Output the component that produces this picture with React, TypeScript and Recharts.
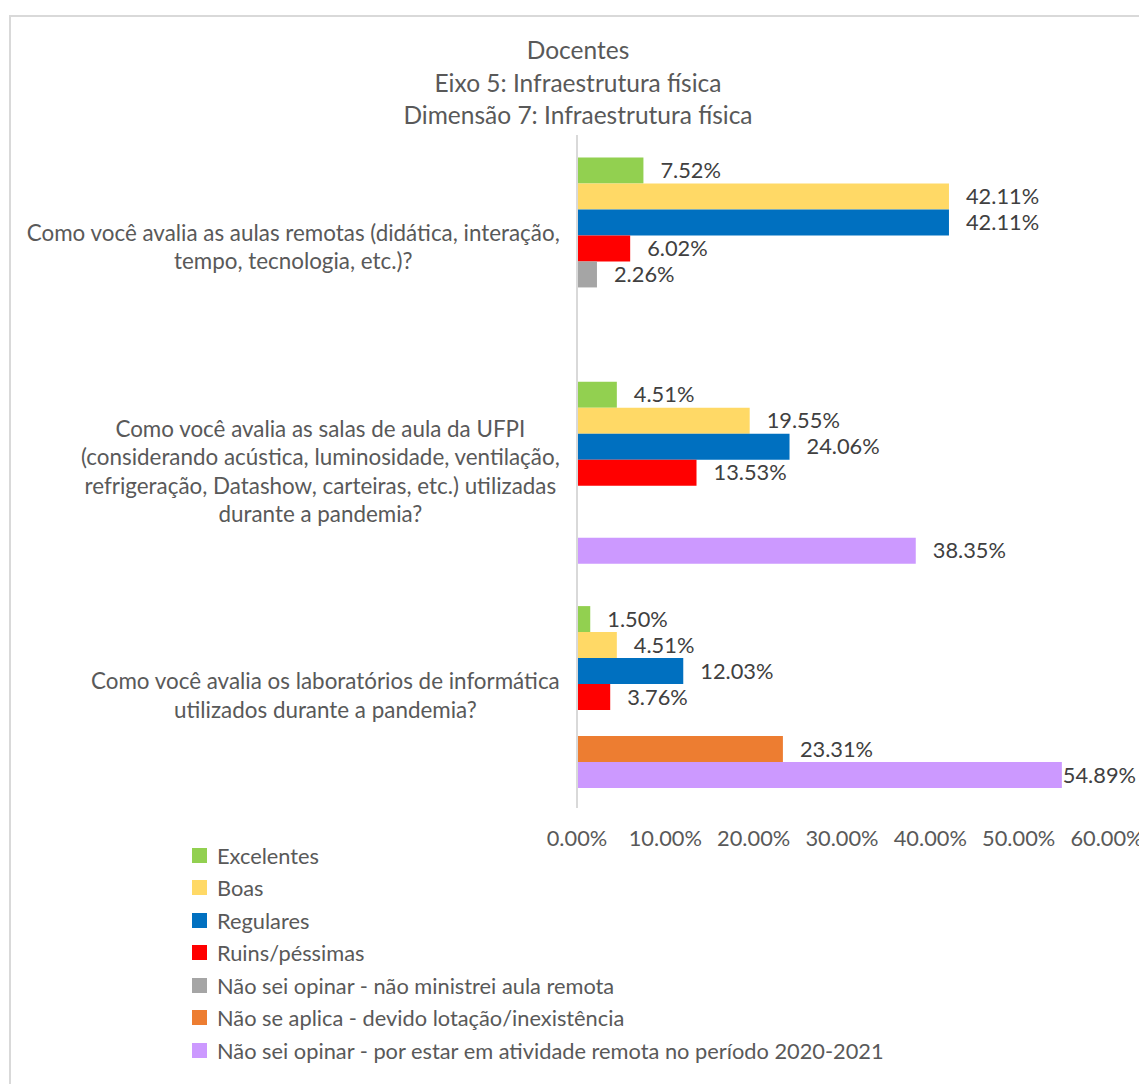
import React from 'react'
import { BarChart, Bar, XAxis, YAxis, LabelList } from 'recharts'

const categories = [
  'Como você avalia as aulas remotas (didática, interação,\ntempo, tecnologia, etc.)?',
  'Como você avalia as salas de aula da UFPI\n(considerando acústica, luminosidade, ventilação,\nrefrigeração, Datashow, carteiras, etc.) utilizadas\ndurante a pandemia?',
  'Como você avalia os laboratórios de informática\nutilizados durante a pandemia?',
]

const excelentes = [7.52, 4.51, 1.5]
const boas = [42.11, 19.55, 4.51]
const regulares = [42.11, 24.06, 12.03]
const ruins = [6.02, 13.53, 3.76]
const naoMinistrei = [2.26, null, null]
const naoSeAplica = [null, null, 23.31]
const naoSeiRemota = [null, 38.35, 54.89]

const xTicks = [0, 10, 20, 30, 40, 50, 60]

const titleLines = ['Docentes', 'Eixo 5: Infraestrutura física', 'Dimensão 7: Infraestrutura física']

const SERIES = [
  { key: 'excelentes', name: 'Excelentes', color: '#92D050', values: excelentes },
  { key: 'boas', name: 'Boas', color: '#FFD966', values: boas },
  { key: 'regulares', name: 'Regulares', color: '#0070C0', values: regulares },
  { key: 'ruins', name: 'Ruins/péssimas', color: '#FF0000', values: ruins },
  { key: 'naoMinistrei', name: 'Não sei opinar - não ministrei aula remota', color: '#A5A5A5', values: naoMinistrei },
  { key: 'naoSeAplica', name: 'Não se aplica - devido lotação/inexistência', color: '#ED7D31', values: naoSeAplica },
  { key: 'naoSeiRemota', name: 'Não sei opinar - por estar em atividade remota no período 2020-2021', color: '#CC99FF', values: naoSeiRemota },
]

const data = categories.map((c, i) => {
  const row: Record<string, any> = { categoria: c }
  SERIES.forEach(s => { row[s.key] = s.values[i] })
  return row
})

const FONT = 'Lato, "Noto Sans", sans-serif'
const FS = 21.8
const CAT_FS = 22.4
const W = 1139
const H = 1084

let canvas: HTMLCanvasElement | null = null
function textWidth(t: string, size = FS) {
  if (!canvas) canvas = document.createElement('canvas')
  const ctx = canvas.getContext('2d')!
  ctx.font = `${size}px Lato`
  return ctx.measureText(t).width
}

const CategoryTick = (props: any) => {
  const { x, y, payload } = props
  const lines = String(payload.value).split('\n')
  const maxW = Math.max(...lines.map(l => textWidth(l, CAT_FS)))
  const right = x - 17
  const cx = right - maxW / 2
  const lh = 28.5
  const y0 = y - ((lines.length - 1) * lh) / 2
  return (
    <text x={cx} y={y0} textAnchor="middle" fill="#595959" fontSize={CAT_FS} fontFamily={FONT}>
      {lines.map((l, i) => (
        <tspan key={i} x={cx} y={y0 + i * lh} dy="0.35em">{l}</tspan>
      ))}
    </text>
  )
}

const PercentTick = (props: any) => {
  const { x, y, payload } = props
  return (
    <text x={x} y={y + 38} textAnchor="middle" fill="#595959" fontSize={FS} fontFamily={FONT}>
      {Number(payload.value).toFixed(2)}%
    </text>
  )
}

const ValueLabel = (props: any) => {
  const { x, y, width, height, value } = props
  if (value === null || value === undefined) return null
  const txt = `${Number(value).toFixed(2)}%`
  let lx = x + width + 17
  let anchor: 'start' | 'end' = 'start'
  if (lx + textWidth(txt) > W - 3) {
    lx = W - 3
    anchor = 'end'
  }
  return (
    <text x={lx} y={y + height / 2} dy="0.35em" textAnchor={anchor} fill="#404040" fontSize={FS} fontFamily={FONT}>
      {txt}
    </text>
  )
}

export default function App() {
  return (
    <div style={{ position: 'absolute', left: 0, top: 0, width: W, height: H, overflow: 'hidden', background: '#fff' }}>
      <div style={{ position: 'absolute', left: 9, top: 15, width: 1300, height: 1300, border: '2px solid #d9d9d9' }} />
      <div style={{ position: 'absolute', left: 0, top: 34, width: 1156, textAlign: 'center', color: '#595959', fontFamily: FONT, fontSize: 24.5, lineHeight: '32.5px' }}>
        {titleLines.map(t => <div key={t}>{t}</div>)}
      </div>
      <div style={{ position: 'absolute', left: 0, top: 0 }}>
        <BarChart
          width={W}
          height={H}
          data={data}
          layout="vertical"
          margin={{ top: 135, right: 32, bottom: 246, left: 0 }}
          barCategoryGap="10%"
          barGap={0}
        >
          <XAxis
            type="number"
            domain={[0, 60]}
            ticks={xTicks}
            height={30}
            axisLine={false}
            tickLine={false}
            tickSize={0}
            tickMargin={0}
            tick={<PercentTick />}
            interval={0}
          />
          <YAxis
            type="category"
            dataKey="categoria"
            width={577}
            axisLine={{ stroke: '#d9d9d9', strokeWidth: 2 }}
            tickLine={false}
            tickSize={0}
            tickMargin={0}
            tick={<CategoryTick />}
            interval={0}
          />
          {SERIES.map(s => (
            <Bar key={s.key} dataKey={s.key} name={s.name} fill={s.color} isAnimationActive={false}>
              <LabelList dataKey={s.key} content={<ValueLabel />} />
            </Bar>
          ))}
        </BarChart>
      </div>
      <div style={{ position: 'absolute', left: 192, top: 839 }}>
        {SERIES.map(s => (
          <div key={s.key} style={{ display: 'flex', alignItems: 'center', height: 32.5 }}>
            <div style={{ width: 15, height: 15, background: s.color, marginRight: 10 }} />
            <span style={{ color: '#595959', fontSize: FS, fontFamily: FONT, whiteSpace: 'nowrap' }}>{s.name}</span>
          </div>
        ))}
      </div>
    </div>
  )
}
